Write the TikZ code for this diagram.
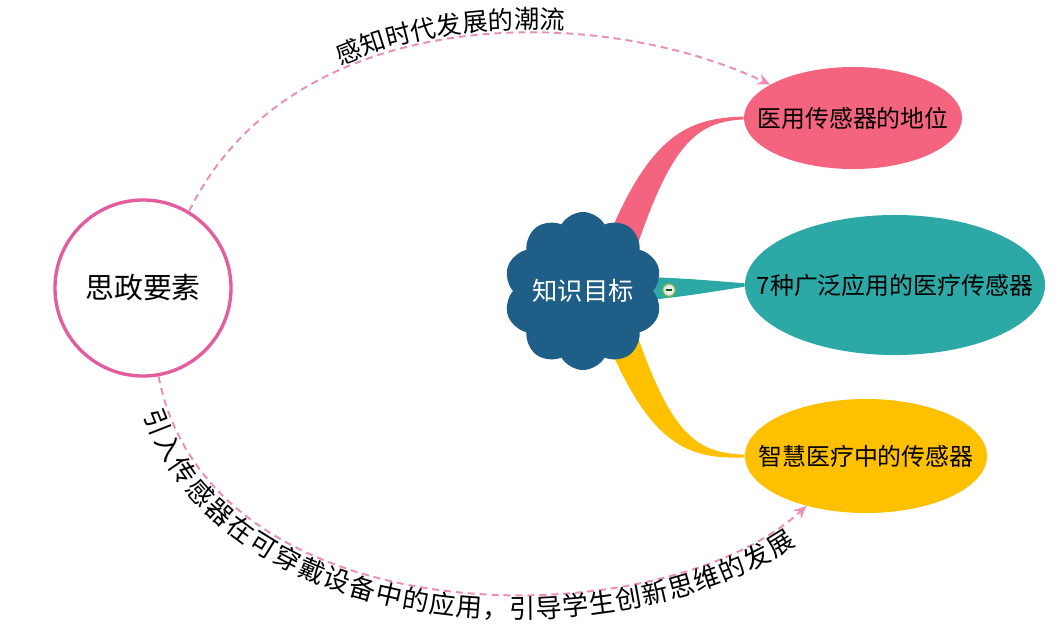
\documentclass[tikz,border=0pt]{standalone}
\usepackage{fontspec}
\newfontfamily\cjk{Noto Sans CJK SC}
\usetikzlibrary{shapes.geometric, shapes.symbols, arrows.meta, decorations.text, calc, backgrounds}

\definecolor{ringpink}{HTML}{E35D9D}
\definecolor{dashpink}{HTML}{EC8FB6}
\definecolor{rosefill}{HTML}{F4647F}
\definecolor{tealfill}{HTML}{2CA8A6}
\definecolor{goldfill}{HTML}{FFC000}
\definecolor{cloudblue}{HTML}{1F5E87}
\definecolor{foldgreen}{HTML}{6CB33E}

\newcommand{\nowidth}[1]{\makebox[0pt]{#1}}
\newcommand{\arcfont}{\cjk\fontsize{18}{20}\selectfont}
\newcommand{\lowfont}{\cjk\fontsize{18.6}{20}\selectfont}

\tikzset{
    ring/.style={circle, draw=ringpink, line width=2.4pt, minimum size=4.4cm, inner sep=0pt,
        font=\cjk\fontsize{20.5}{24}\selectfont},
    hub/.style={cloud, cloud puffs=10, cloud puff arc=120, aspect=1, fill=cloudblue,
        minimum width=3.95cm, minimum height=3.95cm, inner sep=0pt, text=white,
        font=\cjk\fontsize{18}{22}\selectfont},
    leaf/.style={ellipse, inner sep=0pt, font=\cjk\fontsize{17}{20}\selectfont},
    dasharrow/.style={draw=dashpink, line width=1.4pt, dash pattern=on 5pt off 3.5pt, ->},
}

\begin{document}
\begin{tikzpicture}[x=0.025cm, y=-0.025cm, >={Stealth[length=9pt, width=8pt]}]
    \useasboundingbox (0,0) rectangle (1059,633);

    % 1. Main nodes
    \node[ring] (sz) at (143,288) {思政要素};
    \node[hub] (kc) at (583,291) {\nowidth{知识目标}};

    % 2. Leaves (fixed size ellipses)
    \node[leaf, fill=rosefill, minimum width=5.45cm, minimum height=2.55cm] (yy) at (853,118)
        {\nowidth{医用传感器的地位}};
    \node[leaf, fill=tealfill, minimum width=7.5cm, minimum height=3.5cm] (qz) at (895,285)
        {\nowidth{7种广泛应用的医疗传感器}};
    \node[leaf, fill=goldfill, minimum width=6.05cm, minimum height=2.85cm] (zh) at (866,456)
        {\nowidth{智慧医疗中的传感器}};

    % ==========================================
    % Tapered branches (behind the cloud)
    % ==========================================
    \begin{scope}[on background layer]
        \fill[rosefill] ($(kc.center)+(5,0)$) .. controls (640,140) and (680,118) .. ([yshift=1pt]yy.west)
            -- ([yshift=-1pt]yy.west) .. controls (690,122) and (665,150) .. ($(kc.center)+(37,9)$) -- cycle;
        \fill[tealfill] ($(kc.center)+(0,-16)$) .. controls (680,278) .. ([yshift=1.2pt]qz.west)
            -- ([yshift=-1.2pt]qz.west) .. controls (680,297) .. ($(kc.center)+(0,16)$) -- cycle;
        \fill[goldfill] ($(kc.center)+(5,0)$) .. controls (640,440) and (680,460) .. ([yshift=-1pt]zh.west)
            -- ([yshift=1pt]zh.west) .. controls (690,453) and (665,430) .. ($(kc.center)+(37,-9)$) -- cycle;
    \end{scope}

    % collapse marker
    \node[circle, draw=foldgreen, inner color=white, outer color=gray!30, line width=0.9pt,
        minimum size=0.32cm, inner sep=0pt] (fold) at (669,290) {};
    \draw[line width=1.1pt, green!35!black] ([xshift=-2.4pt]fold.center) -- ([xshift=2.4pt]fold.center);

    % ==========================================
    % Dashed links with curved labels
    % ==========================================
    \draw[dasharrow, postaction={decorate, decoration={text along path, text align=center, raise=3pt,
            text={|\arcfont|感知时代发展的潮流}}}]
        (sz.59) .. controls (290,5) and (590,0) .. (yy.158);

    \draw[dasharrow, postaction={decorate, decoration={text along path, text align=center, raise=-17pt,
            text={|\lowfont|引入传感器在可穿戴设备中的应用，引导学生创新思维的发展}}}]
        (sz.280) .. controls (210,640) and (660,640) .. (zh.220);

\end{tikzpicture}
\end{document}
